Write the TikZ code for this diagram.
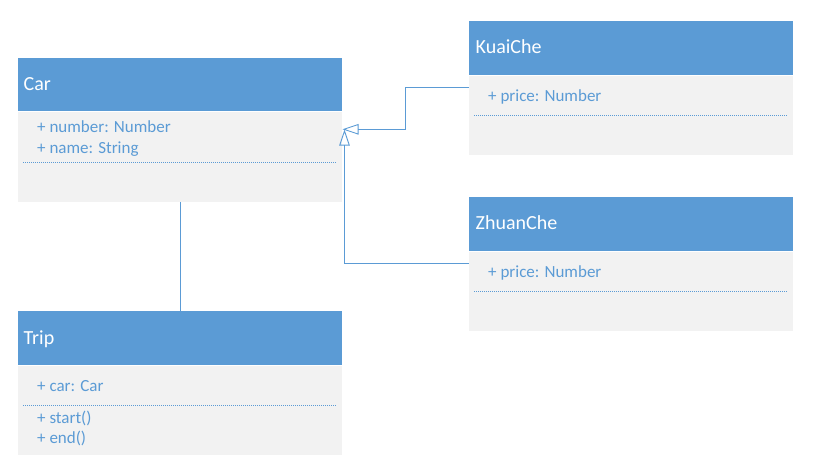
\documentclass[tikz,border=0pt]{standalone}
\usepackage{fontspec}
\setmainfont{Carlito}
\usetikzlibrary{arrows.meta}
\definecolor{umlblue}{HTML}{5B9BD5}
\definecolor{umlgray}{HTML}{F2F2F2}
\tikzset{
  hdr/.style={rectangle, fill=umlblue, draw=none, minimum width=324pt, inner sep=0pt, anchor=north west},
  bodybox/.style={rectangle, fill=umlgray, draw=none, minimum width=324pt, inner sep=0pt, anchor=north west},
  title/.style={anchor=base west, inner sep=0pt, text=white, font=\fontsize{20}{24}\selectfont},
  attr/.style={anchor=base west, inner sep=0pt, text=umlblue, font=\fontsize{17}{20}\selectfont},
  sep/.style={draw=umlblue, line width=0.5pt, dash pattern=on 1pt off 1pt},
  conn/.style={draw=umlblue, line width=0.9pt},
  gen/.style={conn, -{Triangle[open, length=16pt, width=10.5pt, line width=0.9pt]}}
}
\begin{document}
\begin{tikzpicture}[x=1pt, y=-1pt]
\useasboundingbox (0,0) rectangle (815,474);
% Car
\node[hdr, minimum height=53pt] (car) at (18,58) {};
\node[bodybox, minimum height=90pt] (carb) at (car.south west) {};
\node[title] (cart) at (23.5,90.5) {Car};
\node[attr] (cara1) at (37,132.7) {+ number: Number};
\node[attr] (cara2) at (37,153.7) {+ name: String};
\draw[sep] (23,162.5) -- (337,162.5);
% Trip
\node[hdr, minimum height=54pt] (trip) at (18,311) {};
\node[bodybox, minimum height=89pt] (tripb) at (trip.south west) {};
\node[title] (tript) at (23.5,344) {Trip};
\node[attr] (tripa1) at (37,391.7) {+ car: Car};
\draw[sep] (23,405.3) -- (337,405.3);
\node[attr] (tripm1) at (37,423.3) {+ start()};
\node[attr] (tripm2) at (37,443.3) {+ end()};
% KuaiChe
\node[hdr, minimum height=54pt] (kuai) at (469,21) {};
\node[bodybox, minimum height=79pt] (kuaib) at (kuai.south west) {};
\node[title] (kuait) at (475.5,53.3) {KuaiChe};
\node[attr] (kuaia1) at (488,101.7) {+ price: Number};
\draw[sep] (474,115.3) -- (788,115.3);
% ZhuanChe
\node[hdr, minimum height=54pt] (zhuan) at (469,197) {};
\node[bodybox, minimum height=79pt] (zhuanb) at (zhuan.south west) {};
\node[title] (zhuant) at (475.5,229.3) {ZhuanChe};
\node[attr] (zhuana1) at (488,277.7) {+ price: Number};
\draw[sep] (474,291.3) -- (788,291.3);
% connectors
\coordinate (kbend) at (405.5,87.3);
\coordinate (ktip) at (342.5,129.3);
\coordinate (ztip) at (344.5,129.5);
\draw[conn] (carb.south) -- (trip.north);
\draw[gen] (kuaib.west |- kbend) -- (kbend) |- (ktip);
\draw[gen] (zhuanb.west |- 0,263.3) -| (ztip);
\end{tikzpicture}
\end{document}
